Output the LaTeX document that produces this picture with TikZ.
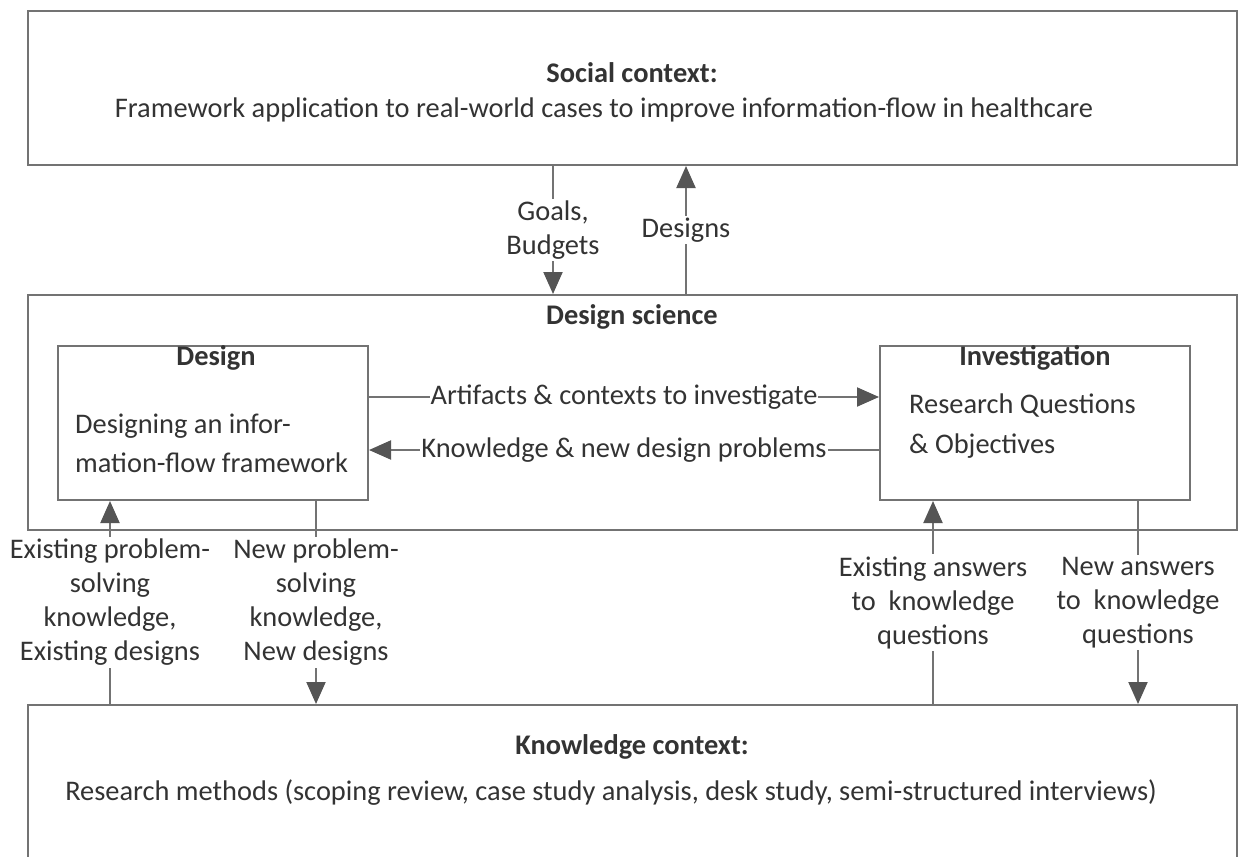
\documentclass[tikz,border=0pt]{standalone}
\usepackage{fontspec}
\setmainfont{Carlito}
\usetikzlibrary{arrows.meta}
\definecolor{ink}{HTML}{333333}
\definecolor{rule}{HTML}{737373}
\definecolor{tip}{HTML}{555555}
\tikzset{
  frame/.style={draw=rule, line width=2pt, fill=none, inner sep=0pt},
  conn/.style={draw=rule, line width=2pt},
  arr/.style={conn, -{Triangle[length=22pt,width=19pt,fill=tip,color=tip]}},
  lab/.style={fill=white, inner sep=2pt, align=center, text=ink,
    font=\fontsize{28.4}{34}\selectfont},
  txt/.style={inner sep=0pt, text=ink, font=\fontsize{28.4}{34}\selectfont},
  head/.style={inner sep=0pt, text=ink, font=\fontsize{28.4}{34}\selectfont\bfseries},
}
\begin{document}
\begin{tikzpicture}[x=1pt, y=-1pt]
\useasboundingbox (0,0) rectangle (1238,856);
\clip (0,0) rectangle (1238,856);
\fill[white] (0,0) rectangle (1238,856);

% outer context boxes
\node[frame, minimum width=1209pt, minimum height=154pt] (social) at (632.5,88) {};
\node[frame, minimum width=1209pt, minimum height=235pt] (ds) at (632.5,412.5) {};
\node[frame, minimum width=1209pt, minimum height=175pt] (know) at (632.5,792.5) {};

% inner cycle boxes
\node[frame, minimum width=310pt, minimum height=154pt] (design) at (213,423) {};
\node[frame, minimum width=310pt, minimum height=154pt] (invest) at (1035,423) {};

% texts of the boxes
\node[head] (socialhead) at (632,73) {Social context:};
\node[txt] (socialtext) at (604,110) {Framework application to real-world cases to improve information-flow in healthcare};
\node[head] (dshead) at (632,317) {Design science};
\node[head] (designhead) at (216,358) {Design};
\node[txt, anchor=west, align=left, font=\fontsize{28.4}{39}\selectfont] (designtext) at (75,443) {Designing an infor-\\mation-flow framework};
\node[head] (investhead) at (1035,358) {Investigation};
\node[txt, anchor=west, align=left, font=\fontsize{28.4}{40}\selectfont] (investtext) at (909,426) {Research Questions\\\& Objectives};
\node[head] (knowhead) at (632,747) {Knowledge context:};
\node[txt] (knowtext) at (611,793) {Research methods (scoping review, case study analysis, desk study, semi-structured interviews)};

% columns of the vertical connectors
\coordinate (cgoal) at (553,0);
\coordinate (cdes) at (686,0);
\coordinate (cexp) at (110,0);
\coordinate (cnewp) at (316,0);
\coordinate (cexa) at (933,0);
\coordinate (cnewa) at (1138,0);
% rows of the horizontal connectors
\coordinate (rart) at (0,397);
\coordinate (rkno) at (0,450);

% social context <-> design science
\draw[arr] (cgoal |- social.south) -- (cgoal |- ds.north)
  node[lab, midway] (goals) {Goals,\\Budgets};
\draw[arr] (cdes |- ds.north) -- (cdes |- social.south)
  node[lab, midway] (designs) {Designs};

% design <-> investigation
\draw[arr] (design.east |- rart) -- (invest.west |- rart)
  node[lab, midway, inner sep=1pt] (artifacts) {Artifacts \& contexts to investigate};
\draw[arr] (invest.west |- rkno) -- (design.east |- rkno)
  node[lab, midway, inner sep=1pt] (knowledge) {Knowledge \& new design problems};

% knowledge context <-> design / investigation
\draw[arr] (cexp |- know.north) -- (cexp |- design.south)
  node[lab, midway] (exprob) {Existing problem-\\solving\\knowledge,\\Existing designs};
\draw[arr] (cnewp |- design.south) -- (cnewp |- know.north)
  node[lab, midway] (newprob) {New problem-\\solving\\knowledge,\\New designs};
\draw[arr] (cexa |- know.north) -- (cexa |- invest.south)
  node[lab, midway] (exans) {Existing answers\\to~~knowledge\\questions};
\draw[arr] (cnewa |- invest.south) -- (cnewa |- know.north)
  node[lab, midway] (newans) {New answers\\to~~knowledge\\questions};
\end{tikzpicture}
\end{document}
